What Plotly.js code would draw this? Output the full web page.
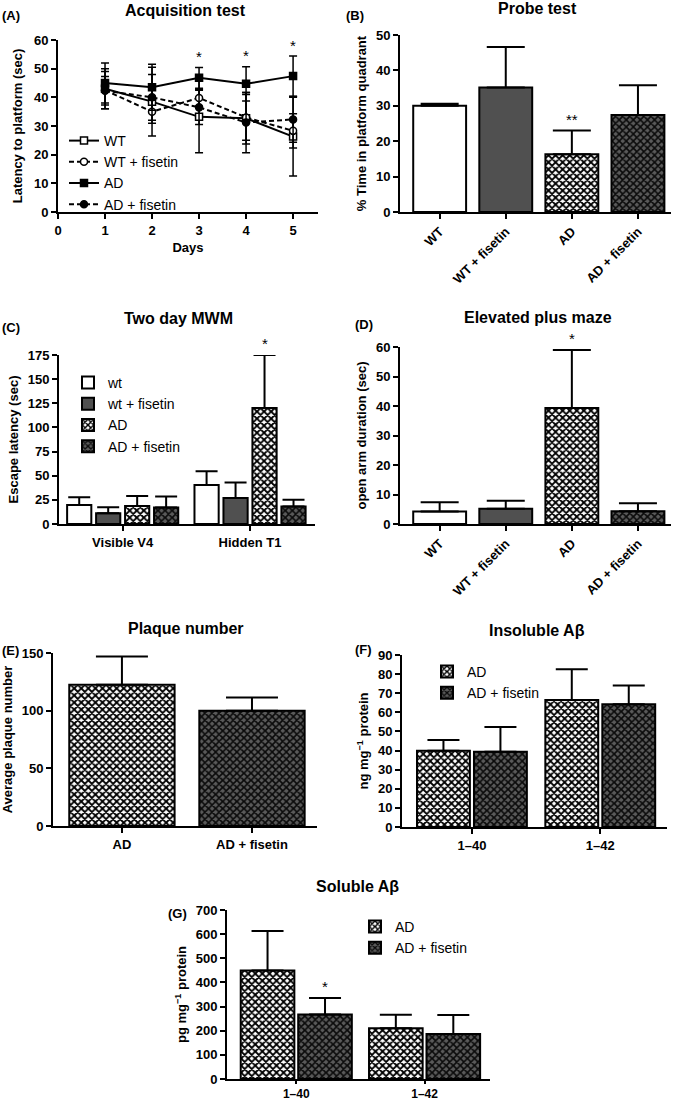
<!DOCTYPE html>
<html><head><meta charset="utf-8">
<script src="https://cdn.plot.ly/plotly-3.0.1.min.js"></script>
<style>html,body{margin:0;padding:0;background:#fff}</style>
</head><body><div id="chart" style="width:674px;height:1102px"></div>
<script>
// ---------- DATA ----------
// (A) Acquisition test
const days = [1, 2, 3, 4, 5];
const acqWT = [43.0, 38.5, 33.2, 32.7, 26.3];
const acqWTsem = [7.0, 12.0, 12.5, 9.0, 13.7];
const acqWTF = [42.5, 35.0, 39.8, 33.0, 28.3];
const acqWTFsem = [6.5, 4.0, 3.0, 8.0, 6.0];
const acqAD = [45.0, 43.5, 46.8, 44.7, 47.4];
const acqADsem = [7.0, 8.0, 3.6, 6.0, 7.0];
const acqADF = [42.3, 40.0, 36.5, 31.2, 32.3];
const acqADFsem = [5.0, 8.0, 6.0, 10.5, 8.0];
const acqStarDays = [3, 4, 5];

// (B) Probe test
const groups4 = ['WT', 'WT + fisetin', 'AD', 'AD + fisetin'];
const probeMean = [30.0, 35.2, 16.3, 27.4];
const probeSem = [0.6, 11.4, 6.7, 8.4];
const probeStars = ['', '', '**', ''];

// (C) Two day MWM
const mwmTrials = ['Visible V4', 'Hidden T1'];
const mwmSeries = ['wt', 'wt + fisetin', 'AD', 'AD + fisetin'];
const mwmWT = [19.8, 40.3];
const mwmWTsem = [8.0, 14.2];
const mwmWTF = [11.1, 27.0];
const mwmWTFsem = [6.3, 16.0];
const mwmAD = [18.7, 120.0];
const mwmADsem = [10.3, 55.0];
const mwmADF = [17.0, 18.0];
const mwmADFsem = [11.5, 7.0];

// (D) Elevated plus maze
const epmMean = [4.2, 5.2, 39.3, 4.3];
const epmSem = [3.2, 2.7, 19.7, 2.7];
const epmStars = ['', '', '*', ''];

// (E) Plaque number
const plaqueGroups = ['AD', 'AD + fisetin'];
const plaqueMean = [122.5, 100.0];
const plaqueSem = [24.5, 11.5];

// (F) Insoluble Abeta (ng/mg protein)
const abetaSpecies = ['1\u201340', '1\u201342'];
const insolAD = [39.9, 66.5];
const insolADsem = [5.6, 16.0];
const insolADF = [39.4, 64.2];
const insolADFsem = [12.9, 9.8];

// (G) Soluble Abeta (pg/mg protein)
const solAD = [449, 210];
const solADsem = [164, 56];
const solADF = [267, 186];
const solADFsem = [69, 79];
const solStarsADF = ['*', ''];

// ---------- STYLE / LAYOUT HELPERS ----------
const W = 674, H = 1102;
const FONT = 'Liberation Sans, Arial, Helvetica, sans-serif';
const fx = p => p / W;
const fy = p => 1 - p / H;
const WHITE = '#ffffff', GREY = '#505050';
const zeros = n => new Array(n).fill(0);
const groupKinds4 = ['white', 'grey', 'whiteX', 'greyX'];

function errUp(arr, w, th) {
  return {type: 'data', symmetric: false, array: arr, arrayminus: zeros(arr.length),
          color: '#000', thickness: th || 2, width: w};
}
function fillMarker(kind) {
  const base = {line: {color: '#000', width: 2}};
  if (kind === 'white') return Object.assign(base, {color: WHITE});
  if (kind === 'grey') return Object.assign(base, {color: GREY});
  if (kind === 'whiteX') return Object.assign(base, {color: WHITE,
      pattern: {shape: 'x', bgcolor: WHITE, fgcolor: '#000', size: 5, solidity: 0.6}});
  return Object.assign(base, {color: '#555555',
      pattern: {shape: 'x', bgcolor: '#5a5a5a', fgcolor: '#0a0a0a', size: 5, solidity: 0.55}});
}

const tickFont = {family: FONT, size: 13, weight: 'bold', color: '#000'};
const titleFont = {family: FONT, size: 13, weight: 'bold', color: '#000'};
function xax(box, range, extra) {
  return Object.assign({
    domain: [fx(box[0]), fx(box[1])], range: range, showline: true, linecolor: '#000', linewidth: 2,
    ticks: 'outside', ticklen: 5, tickwidth: 2, tickcolor: '#000', showgrid: false, zeroline: false,
    tickfont: tickFont, automargin: false, fixedrange: true
  }, extra || {});
}
function yax(box, range, dtick, title, standoff, extra) {
  return Object.assign({
    domain: [fy(box[3]), fy(box[2])], range: range, dtick: dtick, tick0: 0,
    showline: true, linecolor: '#000', linewidth: 2,
    ticks: 'outside', ticklen: 5, tickwidth: 2, tickcolor: '#000', showgrid: false, zeroline: false,
    tickfont: tickFont, automargin: false, fixedrange: true,
    title: {text: title, font: titleFont, standoff: standoff}
  }, extra || {});
}

// panel boxes [left, right, top, bottom] in px
const boxA = [58, 318, 40, 212];
const boxB = [400, 671, 35, 212];
const boxC = [59, 315, 355, 524];
const boxD = [400, 671, 347, 524];
const boxE = [53, 317, 653, 826];
const boxF = [402, 667, 655, 827];
const boxG = [227, 490, 910, 1079];

// ---------- TRACES ----------
const traces = [];
const lineDefs = [
  {name: 'WT', y: acqWT, e: acqWTsem, dash: 'solid', sym: 'square', fill: WHITE},
  {name: 'WT + fisetin', y: acqWTF, e: acqWTFsem, dash: '5px,3px', sym: 'circle', fill: WHITE},
  {name: 'AD', y: acqAD, e: acqADsem, dash: 'solid', sym: 'square', fill: '#000'},
  {name: 'AD + fisetin', y: acqADF, e: acqADFsem, dash: '5px,3px', sym: 'circle', fill: '#000'}
];
lineDefs.forEach(d => traces.push({
  type: 'scatter', mode: 'lines+markers', name: d.name, x: days, y: d.y,
  xaxis: 'x', yaxis: 'y', legend: 'legend',
  line: {color: '#000', width: 2, dash: d.dash},
  marker: {symbol: d.sym, size: 7, color: d.fill, line: {color: '#000', width: 1.5}},
  error_y: {type: 'data', array: d.e, color: '#000', thickness: 1.5, width: 4}
}));

// B : one trace per bar so each can carry its own fill
groups4.forEach((g, i) => traces.push({type: 'bar', name: g, x: [g], y: [probeMean[i]], width: 0.8,
  xaxis: 'x2', yaxis: 'y2', showlegend: false, marker: fillMarker(groupKinds4[i]),
  error_y: errUp([probeSem[i]], 19)}));

// C
const mwmDefs = [
  {name: mwmSeries[0], y: mwmWT, e: mwmWTsem, k: 'white'},
  {name: mwmSeries[1], y: mwmWTF, e: mwmWTFsem, k: 'grey'},
  {name: mwmSeries[2], y: mwmAD, e: mwmADsem, k: 'whiteX'},
  {name: mwmSeries[3], y: mwmADF, e: mwmADFsem, k: 'greyX'}
];
const cPitch = 0.2275, cW = 0.19;
mwmDefs.forEach((d, i) => traces.push({
  type: 'bar', name: d.name, x: mwmTrials, y: d.y, xaxis: 'x3', yaxis: 'y3', legend: 'legend2',
  width: cW, offset: (i - 1.5) * cPitch - cW / 2, marker: fillMarker(d.k),
  error_y: errUp(d.e, 11)
}));

// D
groups4.forEach((g, i) => traces.push({type: 'bar', name: g, x: [g], y: [epmMean[i]], width: 0.8,
  xaxis: 'x4', yaxis: 'y4', showlegend: false, marker: fillMarker(groupKinds4[i]),
  error_y: errUp([epmSem[i]], 19)}));

// E
['whiteX', 'greyX'].forEach((k, i) => traces.push({type: 'bar', name: plaqueGroups[i],
  x: [plaqueGroups[i]], y: [plaqueMean[i]], width: 0.81, xaxis: 'x5', yaxis: 'y5',
  showlegend: false, marker: fillMarker(k), error_y: errUp([plaqueSem[i]], 26)}));

// F
const fPitch = 0.222, fW = 0.412;
[{name: 'AD', y: insolAD, e: insolADsem, k: 'whiteX'},
 {name: 'AD + fisetin', y: insolADF, e: insolADFsem, k: 'greyX'}].forEach((d, i) => traces.push({
  type: 'bar', name: d.name, x: abetaSpecies, y: d.y, xaxis: 'x6', yaxis: 'y6', legend: 'legend3',
  width: fW, offset: (i - 0.5) * 2 * fPitch - fW / 2, marker: fillMarker(d.k), error_y: errUp(d.e, 16)
}));

// G
const gPitch = 0.224, gW = 0.418;
[{name: 'AD', y: solAD, e: solADsem, k: 'whiteX'},
 {name: 'AD + fisetin', y: solADF, e: solADFsem, k: 'greyX'}].forEach((d, i) => traces.push({
  type: 'bar', name: d.name, x: abetaSpecies, y: d.y, xaxis: 'x7', yaxis: 'y7', legend: 'legend4',
  width: gW, offset: (i - 0.5) * 2 * gPitch - gW / 2, marker: fillMarker(d.k), error_y: errUp(d.e, 16)
}));

// ---------- ANNOTATIONS ----------
const ann = [];
function paperText(text, xpx, ypx, size, bold, anchor) {
  ann.push({xref: 'paper', yref: 'paper', x: fx(xpx), y: fy(ypx), text: text, showarrow: false,
    xanchor: anchor || 'center', yanchor: 'middle',
    font: {family: FONT, size: size, weight: bold ? 'bold' : 'normal', color: '#000'}});
}
function star(xr, yr, x, y, txt) {
  ann.push({xref: xr, yref: yr, x: x, y: y, text: txt, showarrow: false, xanchor: 'center',
    yanchor: 'middle', yshift: 11, font: {family: FONT, size: 15, color: '#000'}});
}
// titles
paperText('Acquisition test', 185, 10, 16, true);
paperText('Probe test', 537, 9, 16, true);
paperText('Two day MWM', 178, 318, 16, true);
paperText('Elevated plus maze', 538, 317, 16, true);
paperText('Plaque number', 186, 628, 16, true);
paperText('Insoluble A\u03b2', 537, 630, 16, true);
paperText('Soluble A\u03b2', 357, 886, 16, true);
// panel labels
paperText('(A)', 0, 15, 13, true, 'left');
paperText('(B)', 344, 15, 13, true, 'left');
paperText('(C)', 0, 327, 13, true, 'left');
paperText('(D)', 353, 325, 13, true, 'left');
paperText('(E)', 0, 650, 13, true, 'left');
paperText('(F)', 353, 649, 13, true, 'left');
paperText('(G)', 166, 913, 13, true, 'left');
// significance stars
acqStarDays.forEach(dd => {
  const i = days.indexOf(dd);
  const top = Math.max(acqWT[i] + acqWTsem[i], acqWTF[i] + acqWTFsem[i], acqAD[i] + acqADsem[i], acqADF[i] + acqADFsem[i]);
  star('x', 'y', dd, top, '*');
});
probeStars.forEach((s, i) => { if (s) star('x2', 'y2', groups4[i], probeMean[i] + probeSem[i], s); });
epmStars.forEach((s, i) => { if (s) star('x4', 'y4', groups4[i], epmMean[i] + epmSem[i], s); });
star('x3', 'y3', 1 + (2 - 1.5) * cPitch, mwmAD[1] + mwmADsem[1], '*');
solStarsADF.forEach((s, i) => { if (s) star('x7', 'y7', i + gPitch, solADF[i] + solADFsem[i], s); });

// ---------- LAYOUT ----------
const legFont = {family: FONT, size: 14, color: '#000'};
const legBase = {xanchor: 'left', yanchor: 'top', bgcolor: 'rgba(0,0,0,0)', font: legFont, tracegroupgap: 0};
const layout = {
  width: W, height: H, margin: {l: 0, r: 0, t: 0, b: 0},
  paper_bgcolor: '#fff', plot_bgcolor: 'rgba(0,0,0,0)',
  barmode: 'overlay', showlegend: true, font: {family: FONT, color: '#000'},
  xaxis: xax(boxA, [0, 5.53], {anchor: 'y', tickvals: [0, 1, 2, 3, 4, 5],
    title: {text: 'Days', font: titleFont, standoff: 6}}),
  yaxis: yax(boxA, [0, 60], 10, 'Latency to platform (sec)', 8, {anchor: 'x'}),
  xaxis2: xax(boxB, [-0.6, 3.5], {anchor: 'y2', type: 'category', tickangle: -45}),
  yaxis2: yax(boxB, [0, 50], 10, '% Time in platform quadrant', 6, {anchor: 'x2'}),
  xaxis3: xax(boxC, [-0.5, 1.51], {anchor: 'y3', type: 'category'}),
  yaxis3: yax(boxC, [0, 175], 25, 'Escape latency (sec)', 6, {anchor: 'x3'}),
  xaxis4: xax(boxD, [-0.6, 3.5], {anchor: 'y4', type: 'category', tickangle: -45}),
  yaxis4: yax(boxD, [0, 60], 10, 'open arm duration (sec)', 6, {anchor: 'x4'}),
  xaxis5: xax(boxE, [-0.53, 1.5], {anchor: 'y5', type: 'category'}),
  yaxis5: yax(boxE, [0, 150], 50, 'Average plaque number', 6, {anchor: 'x5'}),
  xaxis6: xax(boxF, [-0.545, 1.52], {anchor: 'y6', type: 'category'}),
  yaxis6: yax(boxF, [0, 90], 10, 'ng mg<sup>\u22121</sup> protein', 6, {anchor: 'x6'}),
  xaxis7: xax(boxG, [-0.54, 1.51], {anchor: 'y7', type: 'category', ticklen: 3,
    tickfont: {family: FONT, size: 12, weight: 'bold', color: '#000'}}),
  yaxis7: yax(boxG, [0, 700], 100, 'pg mg<sup>\u22121</sup> protein', 6, {anchor: 'x7'}),
  legend: Object.assign({x: fx(64), y: fy(125)}, legBase),
  legend2: Object.assign({x: fx(68), y: fy(367)}, legBase),
  legend3: Object.assign({x: fx(427), y: fy(656)}, legBase),
  legend4: Object.assign({x: fx(355), y: fy(911)}, legBase),
  annotations: ann
};

Plotly.newPlot('chart', traces, layout, {staticPlot: true, displayModeBar: false});
</script>
</body></html>
